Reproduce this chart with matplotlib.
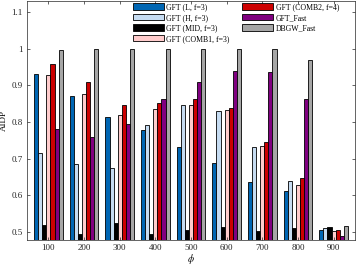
import numpy as np
import matplotlib.pyplot as plt

# data
phi = [100, 200, 300, 400, 500, 600, 700, 800, 900]
series_names = ['GFT (L, f=3)', 'GFT (H, f=3)', 'GFT (MID, f=3)', 'GFT (COMB1, f=3)',
                'GFT (COMB2, f=4)', 'GFT_Fast', 'DBGW_Fast']
gft_l = [0.931, 0.872, 0.813, 0.777, 0.732, 0.688, 0.635, 0.613, 0.506]
gft_h = [0.715, 0.685, 0.675, 0.791, 0.847, 0.829, 0.733, 0.638, 0.512]
gft_mid = [0.520, 0.495, 0.524, 0.495, 0.504, 0.513, 0.502, 0.510, 0.513]
gft_comb1 = [0.927, 0.875, 0.819, 0.835, 0.847, 0.833, 0.735, 0.628, 0.502]
gft_comb2 = [0.957, 0.908, 0.845, 0.853, 0.863, 0.837, 0.745, 0.648, 0.504]
gft_fast = [0.782, 0.758, 0.794, 0.864, 0.910, 0.938, 0.935, 0.864, 0.489]
dbgw_fast = [0.997, 1.000, 1.000, 1.000, 1.000, 1.000, 0.998, 0.968, 0.517]

series = [gft_l, gft_h, gft_mid, gft_comb1, gft_comb2, gft_fast, dbgw_fast]
colors = ['#0066b3', '#c6dcf2', '#000000', '#ffcccc', '#cc0000', '#800080', '#a6a6a6']

plt.rcParams['font.family'] = ['Liberation Serif', 'DejaVu Serif']
plt.rcParams['mathtext.fontset'] = 'stix'

fig = plt.figure(figsize=(3.57, 2.67), dpi=100)
ax = fig.add_axes([27/357, 27/267, 328/357, 239/267])

n = len(series)
w = 80 / n
x = np.array(phi)
for i, (vals, c, name) in enumerate(zip(series, colors, series_names)):
    ax.bar(x + (i - (n - 1) / 2) * w, vals, width=w, color=c, edgecolor='black',
           linewidth=0.6, label=name)

ax.set_xlim(40, 960)
ax.set_ylim(0.478, 1.13)
ax.set_xticks(phi)
ax.set_xticklabels([str(p) for p in phi])
yt = [0.5, 0.6, 0.7, 0.8, 0.9, 1.0, 1.1]
ax.set_yticks(yt)
ax.set_yticklabels(['0.5', '0.6', '0.7', '0.8', '0.9', '1', '1.1'])
ax.tick_params(direction='in', length=2.5, width=0.5, labelsize=6.5, colors='#262626',
               top=True, right=True, pad=3)
for s in ax.spines.values():
    s.set_linewidth(0.5)
    s.set_color('#262626')

ax.set_xlabel(r'$\phi$', fontsize=7, labelpad=0)
ax.set_ylabel('AIDP', fontsize=6.5, labelpad=3)

ax.legend(ncol=2, loc='upper left', bbox_to_anchor=(0.322, 0.99), frameon=False,
          fontsize=5.6, handlelength=4.0, handleheight=0.9, handletextpad=0.35,
          columnspacing=1.6, labelspacing=0.32, borderpad=0, borderaxespad=0)

fig.savefig('out.png', dpi=100)
